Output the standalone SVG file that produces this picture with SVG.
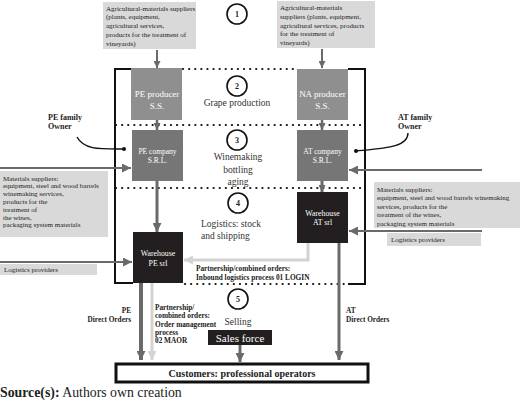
<svg xmlns="http://www.w3.org/2000/svg" width="520" height="403" viewBox="0 0 520 403">
<style>
text{font-family:"Liberation Serif","Times New Roman",serif;fill:#222}
.sm{font-size:7px}
.lb{font-size:7.3px;font-weight:bold}
.own{font-size:8px;font-weight:bold}
.wt{fill:#fff;text-anchor:middle}
.stage{font-size:9.5px;text-anchor:middle;fill:#333}
.num{font-size:8px;font-weight:bold;text-anchor:middle}
.sup{fill:#d9d9d9}
.dot{stroke:#111;stroke-width:2.2;stroke-dasharray:0.1 6;stroke-linecap:round;fill:none}
.frame{stroke:#111;stroke-width:2;fill:none}
.dk{stroke:#6a6a6a;fill:none}
.lt{stroke:#d3d3d3;fill:none}
.circ{fill:#fff;stroke:#111;stroke-width:1.6}
</style>
<defs>
<marker id="ad" markerUnits="userSpaceOnUse" markerWidth="9" markerHeight="9" refX="9" refY="4.5" orient="auto"><path d="M0,0 L9,4.5 L0,9 z" fill="#6a6a6a"/></marker>
<marker id="as" markerUnits="userSpaceOnUse" markerWidth="7" markerHeight="7" refX="7" refY="3.5" orient="auto"><path d="M0,0 L7,3.5 L0,7 z" fill="#6a6a6a"/></marker>
<marker id="al" markerUnits="userSpaceOnUse" markerWidth="9" markerHeight="9" refX="9" refY="4.5" orient="auto"><path d="M0,0 L9,4.5 L0,9 z" fill="#d3d3d3"/></marker>
</defs>
<rect width="520" height="403" fill="#fff"/>

<g id="stage-lines">
<path class="dot" d="M183,69 H297"/>
<path class="dot" d="M116,125 H364"/>
<path class="dot" d="M116,188 H364"/>
<path class="dot" d="M185,284 H347"/>
<path class="frame" d="M132,69 H115 V283 H133"/>
<path class="frame" d="M348,69 H365 V284 H348"/>
</g>

<g id="connectors">
<path class="dk" stroke-width="2" d="M157,50 V68" marker-end="url(#as)"/>
<path class="dk" stroke-width="2" d="M322,49 V68" marker-end="url(#as)"/>
<path class="dk" stroke-width="2.5" d="M157,120 V130" marker-end="url(#as)"/>
<path class="dk" stroke-width="2.5" d="M322,120 V130" marker-end="url(#as)"/>
<path class="dk" stroke-width="3" d="M157,181 V232" marker-end="url(#ad)"/>
<path class="dk" stroke-width="3" d="M322,181 V192" marker-end="url(#as)"/>
<path class="dk" stroke-width="2" d="M0,168 H131" marker-end="url(#ad)"/>
<path class="dk" stroke-width="2" d="M482,170 H349" marker-end="url(#ad)"/>
<path class="dk" stroke-width="2" d="M0,262 H132" marker-end="url(#ad)"/>
<path class="dk" stroke-width="2" d="M482,231 H349" marker-end="url(#ad)"/>
<path class="lt" stroke-width="3" d="M308,243 V260 H184" marker-end="url(#al)"/>
<path class="dk" stroke-width="4" d="M141,283 V360" marker-end="url(#ad)"/>
<path class="lt" stroke-width="3" d="M152,283 V360" marker-end="url(#al)"/>
<path class="dk" stroke-width="3" d="M339,243 V360" marker-end="url(#ad)"/>
<path class="dk" stroke-width="3" d="M240,345 V362" marker-end="url(#ad)"/>
<path d="M77,137 C84,150 100,149 124,149" fill="none" stroke="#111" stroke-width="1.4"/>
<circle cx="124" cy="149" r="2" fill="#111"/>
<path d="M408,133 C408,147 386,148 356,151" fill="none" stroke="#111" stroke-width="1.4"/>
<circle cx="356" cy="151" r="2" fill="#111"/>
</g>

<g id="supplier-top-left">
<rect class="sup" x="103" y="2" width="93" height="47"/>
<text class="sm" x="106" y="10.5">Agricultural-materials suppliers</text>
<text class="sm" x="106" y="19.3">(plants, equipment,</text>
<text class="sm" x="106" y="28.1">agricultural services,</text>
<text class="sm" x="106" y="36.9">products for the treatment of</text>
<text class="sm" x="106" y="45.7">vineyards)</text>
</g>
<g id="supplier-top-right">
<rect class="sup" x="277" y="1" width="98" height="47"/>
<text class="sm" x="280" y="10">Agricultural-materials</text>
<text class="sm" x="280" y="18.8">suppliers (plants, equipment,</text>
<text class="sm" x="280" y="27.6">agricultural services, products</text>
<text class="sm" x="280" y="36.4">for the treatment of</text>
<text class="sm" x="280" y="45.2">vineyards)</text>
</g>

<g id="stage-1"><circle class="circ" cx="237" cy="14" r="10"/><text class="num" x="237" y="17">1</text></g>
<g id="stage-2"><circle class="circ" cx="237" cy="86" r="10"/><text class="num" x="237" y="89">2</text><text class="stage" x="237" y="106">Grape production</text></g>
<g id="stage-3"><circle class="circ" cx="237" cy="140" r="10"/><text class="num" x="237" y="143">3</text>
<text class="stage" x="238" y="160">Winemaking</text><text class="stage" x="238" y="172.5">bottling</text><text class="stage" x="238" y="185">aging</text></g>
<g id="stage-4"><circle class="circ" cx="238" cy="203" r="10"/><text class="num" x="238" y="206">4</text>
<text class="stage" x="201" y="227" style="text-anchor:start">Logistics: stock</text><text class="stage" x="201" y="239" style="text-anchor:start">and shipping</text></g>
<g id="stage-5"><circle class="circ" cx="238" cy="299" r="10"/><text class="num" x="238" y="302">5</text><text class="stage" x="238" y="325">Selling</text></g>

<g id="pe-producer"><rect x="131" y="68" width="51" height="52" fill="#8f8f8f"/>
<text class="wt" x="157" y="97" font-size="9">PE producer</text><text class="wt" x="157" y="109" font-size="9">S.S.</text></g>
<g id="na-producer"><rect x="297" y="69" width="51" height="51" fill="#8f8f8f"/>
<text class="wt" x="322.5" y="97" font-size="9">NA producer</text><text class="wt" x="322.5" y="109" font-size="9">S.S.</text></g>
<g id="pe-company"><rect x="132" y="130" width="51" height="51" fill="#767676"/>
<text class="wt" x="157.5" y="154" font-size="7.5">PE company</text><text class="wt" x="157.5" y="162.5" font-size="7.5">S.R.L.</text></g>
<g id="at-company"><rect x="297" y="130" width="51" height="51" fill="#767676"/>
<text class="wt" x="322.5" y="154" font-size="7.5">AT company</text><text class="wt" x="322.5" y="162.5" font-size="7.5">S.R.L.</text></g>
<g id="warehouse-at"><rect x="297" y="192" width="51" height="51" fill="#231f20"/>
<text class="wt" x="322.5" y="215.5" font-size="7.8">Warehouse</text><text class="wt" x="322.5" y="225" font-size="7.8">AT srl</text></g>
<g id="warehouse-pe"><rect x="133" y="232" width="50" height="51" fill="#231f20"/>
<text class="wt" x="158" y="256" font-size="7.8">Warehouse</text><text class="wt" x="158" y="265.5" font-size="7.8">PE srl</text></g>

<g id="pe-owner"><text class="own" x="48" y="120">PE family</text><text class="own" x="48" y="129">Owner</text></g>
<g id="at-owner"><text class="own" x="398" y="120">AT family</text><text class="own" x="398" y="129">Owner</text></g>

<g id="materials-left">
<rect class="sup" x="0" y="171" width="108" height="66"/>
<text class="sm" x="3" y="180.5">Materials suppliers:</text>
<text class="sm" x="3" y="188.3">equipment, steel and wood barrels</text>
<text class="sm" x="3" y="196.1">winemaking services,</text>
<text class="sm" x="3" y="203.9">products for the</text>
<text class="sm" x="3" y="211.7">treatment of</text>
<text class="sm" x="3" y="219.5">the wines,</text>
<text class="sm" x="3" y="227.3">packaging system materials</text>
</g>
<g id="materials-right">
<rect class="sup" x="374" y="182" width="146" height="46"/>
<text class="sm" x="377" y="192">Materials suppliers:</text>
<text class="sm" x="377" y="200.4">equipment, steel and wood barrels winemaking</text>
<text class="sm" x="377" y="208.8">services, products for the</text>
<text class="sm" x="377" y="217.2">treatment of  the wines,</text>
<text class="sm" x="377" y="225.6">packaging system materials</text>
</g>
<g id="logistics-left"><rect class="sup" x="0" y="264" width="97" height="11"/><text class="sm" x="4" y="272">Logistics providers</text></g>
<g id="logistics-right"><rect class="sup" x="387" y="233" width="94" height="13"/><text class="sm" x="391" y="242">Logistics providers</text></g>

<g id="labels">
<text class="lb" x="196" y="271">Partnership/combined orders:</text>
<text class="lb" x="196" y="280">Inbound logistics process 01 LOGIN</text>
<text class="lb" x="131" y="313" text-anchor="end">PE</text>
<text class="lb" x="131" y="321.5" text-anchor="end">Direct Orders</text>
<text class="lb" x="155" y="310">Partnership/</text>
<text class="lb" x="155" y="318.3">combined orders:</text>
<text class="lb" x="155" y="326.6">Order management</text>
<text class="lb" x="155" y="334.9">process</text>
<text class="lb" x="155" y="343.2">02 MAOR</text>
<text class="lb" x="346" y="313">AT</text>
<text class="lb" x="346" y="321.5">Direct Orders</text>
</g>

<g id="sales-force"><rect x="208" y="330" width="64" height="15" fill="#231f20"/><text class="wt" x="240" y="341.5" font-size="11">Sales force</text></g>
<g id="customers"><rect x="116" y="364" width="252" height="18" fill="#fff" stroke="#111" stroke-width="3"/>
<text x="242" y="377" font-size="10" font-weight="bold" text-anchor="middle">Customers: professional operators</text></g>

<text x="0" y="397" font-size="13.8"><tspan font-weight="bold">Source(s):</tspan> Authors own creation</text>
</svg>
